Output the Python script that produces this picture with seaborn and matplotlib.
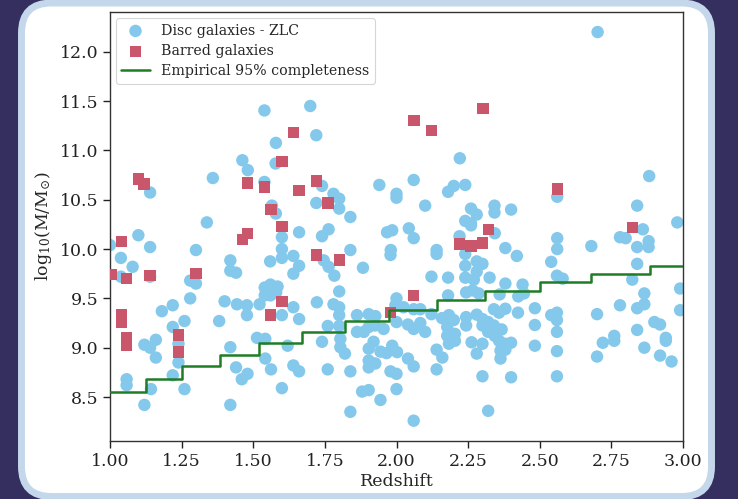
import numpy as np
import pandas as pd
import seaborn as sns
import matplotlib
matplotlib.use("Agg")
import matplotlib.pyplot as plt
from matplotlib.patches import FancyBboxPatch
from matplotlib.transforms import IdentityTransform

# ---------------- data ----------------
disc_z = [1.539, 1.699, 1.720, 1.579, 1.462, 1.481, 1.578, 1.359, 1.539, 1.14,
          1.74, 1.72, 1.78, 1.80, 1.80, 1.565, 1.579, 1.839, 1.338, 1.66,
          1.763, 1.74, 1.60, 1.94, 2.0, 2.0, 1.967, 1.985, 1.099, 1.14,
          1.0, 1.30, 2.702, 2.221, 2.06, 2.20, 2.18, 2.24, 2.10, 2.26,
          2.28, 2.24, 2.26, 2.342, 2.342, 2.40, 2.882, 2.84, 2.98, 2.86,
          2.78, 2.80, 2.88, 2.88, 2.84, 2.68, 2.561, 2.561, 2.561, 2.343,
          2.043, 2.06, 2.38, 2.14, 1.98, 2.22,
          1.038, 1.079, 1.038, 1.14, 1.28, 1.30, 1.28, 1.42, 1.42, 1.44,
          1.40, 1.443, 1.478, 1.478, 1.381, 1.219, 1.181, 1.26, 1.219, 1.12,
          1.14, 1.16, 1.16, 1.239, 1.219, 1.058, 1.058, 1.143, 1.26, 1.12,
          1.42, 1.44, 1.48, 1.46, 1.42, 1.239,
          1.60, 1.60, 1.64, 1.559, 1.66, 1.64, 1.746, 1.763, 1.783, 1.839,
          1.883, 1.979, 1.54, 1.56, 1.585, 1.54, 1.56, 1.58, 1.522, 1.64,
          1.66, 1.60, 1.722, 1.80, 1.78, 1.80, 1.80, 1.76, 1.80, 1.862,
          1.903, 1.926, 1.862, 1.886, 1.903, 1.926, 1.955, 2.0, 1.513, 1.542,
          1.62, 1.74, 1.804, 1.804, 1.82, 1.903, 1.92, 1.944, 1.965, 1.985,
          2.002, 1.542, 1.562, 1.64, 1.66, 1.76, 1.839, 1.903, 1.903, 1.926,
          1.979, 2.0, 1.60, 1.88, 1.903, 1.944, 2.0, 1.839,
          2.14, 2.26, 2.24, 2.42, 2.24, 2.28, 2.30, 2.28, 2.122, 2.18,
          2.24, 2.27, 2.325, 2.38, 2.44, 2.266, 2.243, 2.287, 2.36, 2.425,
          2.445, 1.996, 2.18, 2.06, 2.083, 2.122, 2.025, 2.0, 2.04, 2.06,
          2.083, 2.10, 2.159, 2.183, 2.20, 2.243, 2.243, 2.28, 2.30, 2.34,
          2.358, 2.38, 2.424, 2.483, 2.483, 2.177, 2.177, 2.204, 2.204, 2.183,
          2.30, 2.32, 2.34, 2.32, 2.343, 2.367, 2.358, 2.38, 2.40, 2.262,
          2.30, 2.28, 2.363, 2.38, 2.363, 2.483, 2.14, 2.16, 2.04, 2.06,
          2.14, 2.30, 2.40, 2.32, 2.06,
          2.54, 2.84, 2.56, 2.58, 2.823, 2.99, 2.865, 2.78, 2.84, 2.865,
          2.99, 2.54, 2.56, 2.56, 2.70, 2.56, 2.90, 2.92, 2.84, 2.76,
          2.76, 2.72, 2.94, 2.94, 2.56, 2.70, 2.865, 2.92, 2.96, 2.56]
disc_mass = [11.405, 11.45, 11.154, 11.076, 10.90, 10.80, 10.867, 10.72, 10.68, 10.573,
             10.64, 10.467, 10.56, 10.51, 10.41, 10.44, 10.36, 10.325, 10.27, 10.17,
             10.20, 10.13, 10.12, 10.65, 10.56, 10.52, 10.17, 10.19, 10.14, 10.02,
             10.04, 9.99, 12.20, 10.92, 10.70, 10.64, 10.58, 10.65, 10.44, 10.41,
             10.35, 10.285, 10.26, 10.44, 10.37, 10.40, 10.74, 10.44, 10.27, 10.20,
             10.12, 10.11, 10.08, 10.02, 10.02, 10.03, 10.11, 10.0, 10.53, 10.16,
             10.21, 10.11, 10.01, 9.99, 9.99, 10.13,
             9.91, 9.82, 9.72, 9.72, 9.68, 9.65, 9.50, 9.885, 9.78, 9.76,
             9.47, 9.44, 9.43, 9.33, 9.27, 9.43, 9.37, 9.27, 9.21, 9.03,
             9.0, 9.08, 8.90, 8.85, 8.72, 8.68, 8.62, 8.58, 8.58, 8.42,
             9.005, 8.80, 8.735, 8.68, 8.42, 9.04,
             10.0, 9.91, 9.93, 9.875, 9.83, 9.75, 9.885, 9.82, 9.73, 9.99,
             9.81, 9.94, 9.61, 9.64, 9.62, 9.53, 9.53, 9.56, 9.44, 9.41,
             9.29, 9.33, 9.46, 9.57, 9.44, 9.41, 9.33, 9.22, 9.22, 9.33,
             9.34, 9.32, 9.16, 9.16, 9.21, 9.225, 9.19, 9.50, 9.10, 9.09,
             9.02, 9.06, 9.09, 9.005, 8.94, 8.99, 9.06, 8.96, 8.945, 9.02,
             8.955, 8.89, 8.78, 8.82, 8.76, 8.78, 8.76, 8.87, 8.80, 8.84,
             8.76, 8.735, 8.59, 8.555, 8.57, 8.47, 8.58, 8.35,
             9.95, 10.24, 9.95, 9.93, 9.83, 9.875, 9.85, 9.77, 9.72, 9.71,
             9.71, 9.69, 9.71, 9.65, 9.64, 9.58, 9.56, 9.55, 9.54, 9.52,
             9.55, 9.43, 9.53, 9.39, 9.39, 9.34, 9.41, 9.26, 9.235, 9.19,
             9.25, 9.16, 9.30, 9.33, 9.28, 9.31, 9.225, 9.335, 9.29, 9.39,
             9.355, 9.395, 9.355, 9.40, 9.23, 9.21, 9.12, 9.14, 9.07, 9.04,
             9.225, 9.26, 9.225, 9.16, 9.12, 9.185, 9.07, 9.04, 9.05, 9.055,
             9.04, 8.94, 8.97, 8.98, 8.89, 9.02, 8.98, 8.90, 8.89, 8.81,
             8.78, 8.71, 8.70, 8.36, 8.26,
             9.87, 9.85, 9.73, 9.70, 9.69, 9.60, 9.55, 9.43, 9.40, 9.44,
             9.38, 9.33, 9.355, 9.28, 9.34, 9.16, 9.26, 9.235, 9.18, 9.12,
             9.07, 9.05, 9.10, 9.07, 8.965, 8.91, 9.0, 8.92, 8.86, 8.71]

barred_z = [1.64, 1.60, 1.099, 1.119, 1.48, 1.539, 1.66, 1.72, 1.761, 1.562,
            1.60, 1.48, 1.462, 1.04, 2.302, 2.061, 2.122, 2.561, 2.322, 2.823,
            2.22, 2.26, 2.30, 1.006, 1.058, 1.14, 1.30, 1.04, 1.04, 1.058,
            1.058, 1.239, 1.239, 1.722, 1.80, 1.60, 1.559, 1.979, 2.06]
barred_mass = [11.18, 10.89, 10.71, 10.66, 10.67, 10.63, 10.59, 10.69, 10.467, 10.40,
               10.23, 10.16, 10.10, 10.08, 11.425, 11.30, 11.20, 10.61, 10.20, 10.22,
               10.05, 10.03, 10.06, 9.74, 9.70, 9.73, 9.75, 9.34, 9.26, 9.10,
               9.02, 9.13, 8.955, 9.94, 9.89, 9.47, 9.33, 9.36, 9.53]

compl_z = [1.0, 1.126, 1.25, 1.385, 1.52, 1.67, 1.82, 1.975, 2.14, 2.31, 2.50, 2.68, 2.885, 3.0]
compl_mass = [8.555, 8.684, 8.81, 8.924, 9.046, 9.164, 9.273, 9.378, 9.479, 9.574, 9.665, 9.75, 9.827, 9.827]

labels = ["Disc galaxies - ZLC", "Barred galaxies", "Empirical 95% completeness"]
x_ticks = [1.00, 1.25, 1.50, 1.75, 2.00, 2.25, 2.50, 2.75, 3.00]
y_ticks = [8.5, 9.0, 9.5, 10.0, 10.5, 11.0, 11.5, 12.0]

# ---------------- style ----------------
sns.set_theme(style="ticks")
plt.rcParams["font.family"] = ["DejaVu Serif"]
plt.rcParams["mathtext.fontset"] = "dejavuserif"

W, H, DPI = 738, 499, 100
fig = plt.figure(figsize=(W / DPI, H / DPI), dpi=DPI)
fig.patch.set_facecolor("#342f5f")

# rounded white panel with light border (pixel coordinates)
panel = FancyBboxPatch((21.5, 2.5), 690, 493.5,
                       boxstyle="round,pad=0,rounding_size=30",
                       facecolor="white", edgecolor="#c5d8eb", linewidth=5.0,
                       transform=IdentityTransform(), zorder=-10)
fig.patches.append(panel)

ax = fig.add_axes([110 / W, (H - 441) / H, (683 - 110) / W, (441 - 12.3) / H])
ax.set_zorder(1)
ax.set_facecolor("white")

disc = pd.DataFrame({"z": disc_z, "m": disc_mass})
bar = pd.DataFrame({"z": barred_z, "m": barred_mass})
comp = pd.DataFrame({"z": compl_z, "m": compl_mass})

sns.scatterplot(data=disc, x="z", y="m", ax=ax, color="#84c9eb", marker="o",
                s=80, edgecolor="none", label=labels[0], zorder=2)
sns.scatterplot(data=bar, x="z", y="m", ax=ax, color="#c9566b", marker="s",
                s=66, edgecolor="none", label=labels[1], zorder=3)
sns.lineplot(data=comp, x="z", y="m", ax=ax, color="#1e7d25", lw=1.8,
             drawstyle="steps-post", label=labels[2], zorder=4)

ax.set_xlim(1.0, 3.0)
ax.set_ylim(8.054, 12.40)
ax.set_xticks(x_ticks)
ax.set_xticklabels([f"{t:.2f}" for t in x_ticks])
ax.set_yticks(y_ticks)
ax.set_yticklabels([f"{t:.1f}" for t in y_ticks])
ax.tick_params(labelsize=12.5, length=5, width=1, colors="#222222")
for sp in ax.spines.values():
    sp.set_visible(True)
    sp.set_color("#333333")
    sp.set_linewidth(1.0)

ax.set_xlabel("Redshift", fontsize=12.5, labelpad=2)
ax.set_ylabel(r"log$_{10}$(M/M$_{\odot}$)", fontsize=12.5, labelpad=4)

leg = ax.legend(loc="upper left", fontsize=10.2, frameon=True, borderaxespad=0.4,
                handletextpad=0.8, labelspacing=0.45)
leg.get_frame().set_edgecolor("#cccccc")
leg.get_frame().set_linewidth(0.8)

fig.savefig("out.png", dpi=DPI, facecolor=fig.get_facecolor())
